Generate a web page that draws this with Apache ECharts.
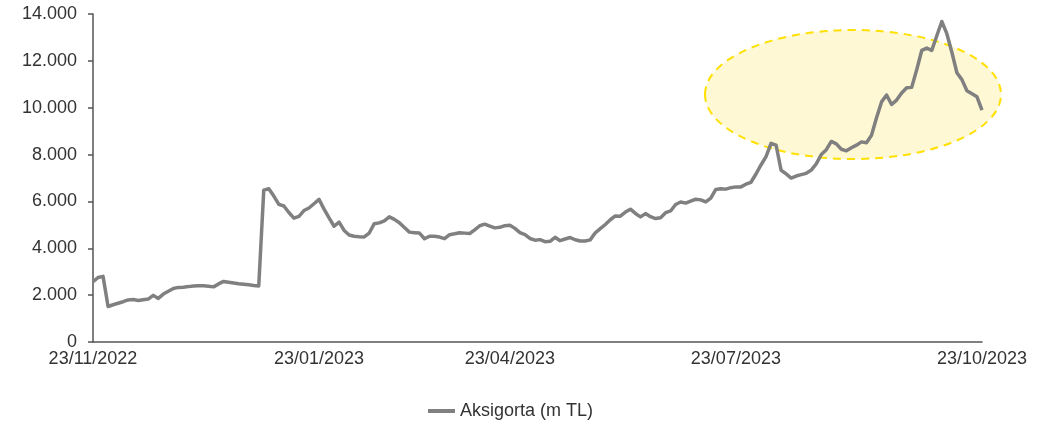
<!DOCTYPE html>
<html>
<head>
<meta charset="utf-8">
<script src="https://cdn.jsdelivr.net/npm/echarts@6/dist/echarts.min.js"></script>
<style>
  html, body { margin: 0; padding: 0; background: #ffffff; }
  #chart { width: 1058px; height: 422px; }
</style>
</head>
<body>
<div id="chart"></div>
<script>
const values = [
  2580, 2750, 2800, 1515, 1590, 1655, 1720, 1797, 1812, 1774,
  1806, 1833, 1990, 1860, 2045, 2167, 2283, 2330, 2341, 2364,
  2394, 2404, 2396, 2378, 2353, 2479, 2586, 2553, 2520, 2490,
  2468, 2444, 2412, 2392, 6485, 6543, 6230, 5877, 5805, 5528,
  5287, 5366, 5611, 5718, 5901, 6090, 5671, 5295, 4941, 5119,
  4762, 4570, 4516, 4494, 4486, 4651, 5050, 5084, 5169, 5340,
  5234, 5092, 4888, 4690, 4668, 4650, 4406, 4515, 4514, 4480,
  4410, 4579, 4619, 4664, 4647, 4631, 4785, 4962, 5029, 4950,
  4871, 4893, 4966, 4985, 4850, 4670, 4586, 4418, 4346, 4370,
  4282, 4297, 4469, 4324, 4395, 4459, 4365, 4311, 4308, 4359,
  4661, 4840, 5015, 5218, 5382, 5372, 5545, 5669, 5487, 5340,
  5481, 5347, 5268, 5307, 5519, 5593, 5871, 5976, 5928, 6015,
  6093, 6066, 5977, 6143, 6510, 6540, 6525, 6588, 6621, 6621,
  6734, 6818, 7171, 7556, 7909, 8480, 8400, 7330, 7177, 6997,
  7084, 7143, 7199, 7337, 7602, 8005, 8210, 8560, 8459, 8228,
  8161, 8291, 8401, 8541, 8506, 8823, 9569, 10248, 10542, 10138,
  10326, 10628, 10850, 10868, 11619, 12444, 12544, 12447, 13074, 13680,
  13160, 12368, 11492, 11200, 10723, 10598, 10467, 9898
];
// Date tick labels and the observation they sit on
const tickLabels = ['23/11/2022', '23/01/2023', '23/04/2023', '23/07/2023', '23/10/2023'];
const tickIndex = [0, 45, 83, 128, 177];
const seriesName = 'Aksigorta (m TL)';
const yTicks = [0, 2000, 4000, 6000, 8000, 10000, 12000, 14000];

const categories = values.map(function (v, i) {
  const k = tickIndex.indexOf(i);
  return k >= 0 ? tickLabels[k] : '';
});

const chart = echarts.init(document.getElementById('chart'), null, { renderer: 'canvas' });
const FONT = 'Liberation Sans, Arial, sans-serif';

chart.setOption({
  animation: false,
  backgroundColor: '#ffffff',
  grid: { left: 93, right: 76, top: 14, bottom: 80, containLabel: false },
  xAxis: {
    type: 'category',
    data: categories,
    boundaryGap: false,
    axisLine: { show: true, lineStyle: { color: '#555555', width: 1.5 } },
    axisTick: { show: false },
    axisLabel: {
      interval: 0,
      color: '#333333',
      fontFamily: FONT,
      fontSize: 18,
      margin: 8
    },
    splitLine: { show: false }
  },
  yAxis: {
    type: 'value',
    min: yTicks[0],
    max: yTicks[yTicks.length - 1],
    interval: 2000,
    axisLine: { show: true, lineStyle: { color: '#555555', width: 1.5 } },
    axisTick: { show: true, length: 5, lineStyle: { color: '#555555', width: 1.5 } },
    axisLabel: {
      color: '#333333',
      fontFamily: FONT,
      fontSize: 18,
      margin: 16,
      formatter: function (v) {
        return v.toString().replace(/\B(?=(\d{3})+(?!\d))/g, '.');
      }
    },
    splitLine: { show: false }
  },
  legend: {
    top: 397,
    left: 423,
    itemWidth: 27,
    itemHeight: 4,
    icon: 'rect',
    itemGap: 10,
    textStyle: { color: '#333333', fontFamily: FONT, fontSize: 18 },
    data: [seriesName]
  },
  graphic: [
    {
      type: 'ellipse',
      z: -1,
      zlevel: 0,
      silent: true,
      shape: { cx: 853, cy: 94.5, rx: 148, ry: 64.5 },
      style: {
        fill: '#FFF8D4',
        stroke: '#FFE000',
        lineWidth: 2,
        lineDash: [8, 6]
      }
    }
  ],
  series: [
    {
      name: seriesName,
      type: 'line',
      data: values,
      showSymbol: false,
      symbol: 'none',
      z: 5,
      lineStyle: { color: '#808080', width: 3.5, join: 'round' },
      itemStyle: { color: '#808080' }
    }
  ]
});
</script>
</body>
</html>
